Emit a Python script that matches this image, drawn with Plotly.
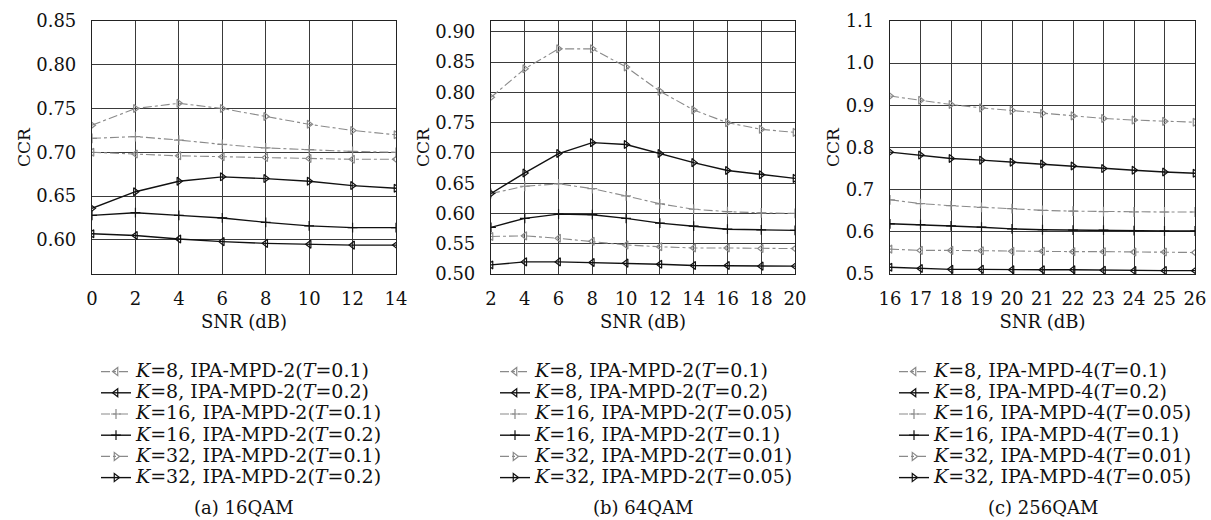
import plotly.graph_objects as go

FONT = "DejaVu Serif, serif"
GRAY = "#8a8a8a"
BLACK = "#111111"

# ---- data ----
snr_a = [0, 2, 4, 6, 8, 10, 12, 14]
a_k8_t01 = [0.700, 0.698, 0.696, 0.695, 0.694, 0.693, 0.692, 0.692]
a_k8_t02 = [0.607, 0.605, 0.601, 0.598, 0.596, 0.595, 0.594, 0.594]
a_k16_t01 = [0.716, 0.718, 0.714, 0.709, 0.705, 0.703, 0.701, 0.700]
a_k16_t02 = [0.628, 0.631, 0.628, 0.625, 0.620, 0.616, 0.614, 0.614]
a_k32_t01 = [0.731, 0.750, 0.756, 0.750, 0.741, 0.732, 0.725, 0.720]
a_k32_t02 = [0.636, 0.655, 0.667, 0.672, 0.670, 0.667, 0.662, 0.659]

snr_b = [2, 4, 6, 8, 10, 12, 14, 16, 18, 20]
b_k8_t01 = [0.562, 0.563, 0.559, 0.554, 0.548, 0.545, 0.543, 0.543, 0.542, 0.542]
b_k8_t02 = [0.515, 0.520, 0.520, 0.519, 0.518, 0.516, 0.514, 0.514, 0.513, 0.513]
b_k16_t005 = [0.633, 0.645, 0.649, 0.641, 0.629, 0.616, 0.607, 0.603, 0.601, 0.600]
b_k16_t01 = [0.577, 0.592, 0.599, 0.598, 0.592, 0.584, 0.579, 0.574, 0.573, 0.572]
b_k32_t001 = [0.792, 0.839, 0.872, 0.872, 0.842, 0.802, 0.771, 0.750, 0.739, 0.734]
b_k32_t005 = [0.633, 0.667, 0.699, 0.717, 0.714, 0.699, 0.684, 0.671, 0.664, 0.658]

snr_c = [16, 17, 18, 19, 20, 21, 22, 23, 24, 25, 26]
c_k8_t01 = [0.559, 0.556, 0.556, 0.555, 0.554, 0.554, 0.553, 0.553, 0.552, 0.552, 0.551]
c_k8_t02 = [0.516, 0.513, 0.511, 0.511, 0.510, 0.510, 0.510, 0.509, 0.508, 0.508, 0.508]
c_k16_t005 = [0.676, 0.667, 0.662, 0.658, 0.655, 0.651, 0.649, 0.648, 0.647, 0.647, 0.647]
c_k16_t01 = [0.619, 0.617, 0.614, 0.611, 0.607, 0.605, 0.604, 0.604, 0.603, 0.602, 0.602]
c_k32_t001 = [0.922, 0.912, 0.902, 0.894, 0.888, 0.881, 0.875, 0.869, 0.865, 0.862, 0.860]
c_k32_t005 = [0.789, 0.782, 0.774, 0.770, 0.765, 0.761, 0.756, 0.750, 0.746, 0.742, 0.739]

labels_a = ["<i>K</i>=8, IPA-MPD-2(<i>T</i>=0.1)", "<i>K</i>=8, IPA-MPD-2(<i>T</i>=0.2)",
            "<i>K</i>=16, IPA-MPD-2(<i>T</i>=0.1)", "<i>K</i>=16, IPA-MPD-2(<i>T</i>=0.2)",
            "<i>K</i>=32, IPA-MPD-2(<i>T</i>=0.1)", "<i>K</i>=32, IPA-MPD-2(<i>T</i>=0.2)"]
labels_b = ["<i>K</i>=8, IPA-MPD-2(<i>T</i>=0.1)", "<i>K</i>=8, IPA-MPD-2(<i>T</i>=0.2)",
            "<i>K</i>=16, IPA-MPD-2(<i>T</i>=0.05)", "<i>K</i>=16, IPA-MPD-2(<i>T</i>=0.1)",
            "<i>K</i>=32, IPA-MPD-2(<i>T</i>=0.01)", "<i>K</i>=32, IPA-MPD-2(<i>T</i>=0.05)"]
labels_c = ["<i>K</i>=8, IPA-MPD-4(<i>T</i>=0.1)", "<i>K</i>=8, IPA-MPD-4(<i>T</i>=0.2)",
            "<i>K</i>=16, IPA-MPD-4(<i>T</i>=0.05)", "<i>K</i>=16, IPA-MPD-4(<i>T</i>=0.1)",
            "<i>K</i>=32, IPA-MPD-4(<i>T</i>=0.01)", "<i>K</i>=32, IPA-MPD-4(<i>T</i>=0.05)"]

ticks_a = [0, 2, 4, 6, 8, 10, 12, 14]
ticks_b = [2, 4, 6, 8, 10, 12, 14, 16, 18, 20]
ticks_c = list(range(16, 27))
yticks_a = [0.60, 0.65, 0.70, 0.75, 0.80, 0.85]
yticks_b = [0.50, 0.55, 0.60, 0.65, 0.70, 0.75, 0.80, 0.85, 0.90]
yticks_c = [0.5, 0.6, 0.7, 0.8, 0.9, 1.0, 1.1]

captions = ["(a) 16QAM", "(b) 64QAM", "(c) 256QAM"]

styles = [
    (GRAY, "dashdot", "triangle-left-open"),
    (BLACK, "solid", "triangle-left-open"),
    (GRAY, "dashdot", "cross-thin-open"),
    (BLACK, "solid", "cross-thin-open"),
    (GRAY, "dashdot", "triangle-right-open"),
    (BLACK, "solid", "triangle-right-open"),
]

panels = [
    (snr_a, [a_k8_t01, a_k8_t02, a_k16_t01, a_k16_t02, a_k32_t01, a_k32_t02], labels_a, "legend"),
    (snr_b, [b_k8_t01, b_k8_t02, b_k16_t005, b_k16_t01, b_k32_t001, b_k32_t005], labels_b, "legend2"),
    (snr_c, [c_k8_t01, c_k8_t02, c_k16_t005, c_k16_t01, c_k32_t001, c_k32_t005], labels_c, "legend3"),
]

LEG_TXT = 19  # visible legend text size (px)

fig = go.Figure()
for i, (xs, series, labels, leg) in enumerate(panels):
    ax = "" if i == 0 else str(i + 1)
    for (col, dash, sym), ys, lab in zip(styles, series, labels):
        fig.add_trace(go.Scatter(
            x=xs, y=ys, mode="lines+markers",
            name='<span style="font-size:%dpx">%s</span>' % (LEG_TXT, lab),
            xaxis="x" + ax, yaxis="y" + ax, legend=leg,
            line=dict(color=col, dash=dash, width=1.4 if col == BLACK else 1.1),
            marker=dict(symbol=sym, size=7, color=col, line=dict(color=col, width=1.2)),
        ))

W, H = 1211, 520
xdom = [(92, 396), (491, 795), (890, 1195)]
ytop, ybot = 21, 274
ydom = [1 - ybot / H, 1 - ytop / H]
xr = [[0, 14], [2, 20], [16, 26]]
yr = [[0.561, 0.85], [0.50, 0.918], [0.5, 1.1]]
xt = [ticks_a, ticks_b, ticks_c]
yt = [yticks_a, yticks_b, yticks_c]
yfmt = ["%.2f", "%.2f", "%.1f"]

layout = dict(
    width=W, height=H, margin=dict(l=0, r=0, t=0, b=0, autoexpand=False),
    paper_bgcolor="white", plot_bgcolor="white",
    font=dict(family=FONT, size=18, color="#111"),
    showlegend=True,
)
axcommon = dict(showline=True, linecolor="#222", linewidth=1.2, mirror=True,
                showgrid=True, gridcolor="#3a3a3a", gridwidth=1, zeroline=False,
                automargin=False,
                ticks="", tickfont=dict(family=FONT, size=18, color="#111"))
for i in range(3):
    ax = "" if i == 0 else str(i + 1)
    layout["xaxis" + ax] = dict(
        axcommon, domain=[xdom[i][0] / W, xdom[i][1] / W], range=xr[i],
        tickvals=xt[i], ticktext=[str(v) for v in xt[i]],
        anchor="y" + ax, ticklabelstandoff=8,
        title=dict(text="SNR (dB)", standoff=7, font=dict(family=FONT, size=18, color="#111")),
    )
    layout["yaxis" + ax] = dict(
        axcommon, domain=ydom, range=yr[i], tickvals=yt[i],
        ticktext=[yfmt[i] % v for v in yt[i]],
        anchor="x" + ax, ticklabelstandoff=11,
        title=dict(text="CCR", standoff=1, font=dict(family=FONT, size=17, color="#111")),
    )
    legname = "legend" if i == 0 else "legend" + str(i + 1)
    layout[legname] = dict(
        x=(xdom[i][0] + 4) / W, xanchor="left", y=1 - 356 / H, yanchor="top",
        bgcolor="rgba(0,0,0,0)", font=dict(family=FONT, size=14, color="#111"),
        itemwidth=30, tracegroupgap=0,
    )

fig.update_layout(**layout)
for i, cap in enumerate(captions):
    fig.add_annotation(text=cap, x=(xdom[i][0] + xdom[i][1]) / 2 / W, y=1 - 507 / H,
                       xref="paper", yref="paper", showarrow=False,
                       xanchor="center", yanchor="middle",
                       font=dict(family=FONT, size=18, color="#111"))

fig.write_html("out.html", config={"displayModeBar": False},
               post_script="document.body.style.margin='0px';")
